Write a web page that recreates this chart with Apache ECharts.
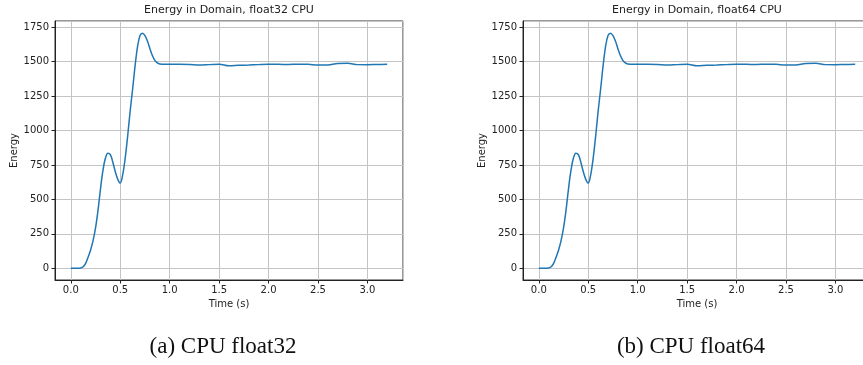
<!DOCTYPE html>
<html>
<head>
<meta charset="utf-8">
<script src="https://cdn.jsdelivr.net/npm/echarts@6/dist/echarts.min.js"></script>
<style>
  html, body { margin: 0; padding: 0; background: #fff; }
  #chart { width: 863px; height: 365px; }
</style>
</head>
<body>
<div id="chart"></div>
<script>
// time axis (s) and energy
var times = [0, 0.05, 0.1, 0.125, 0.15, 0.175, 0.2, 0.225, 0.25, 0.275, 0.3, 0.325, 0.35, 0.375, 0.4,
  0.425, 0.45, 0.475, 0.5, 0.525, 0.55, 0.575, 0.6, 0.625, 0.65, 0.675, 0.7, 0.725, 0.75, 0.775,
  0.8, 0.825, 0.85, 0.875, 0.9, 0.95, 1.0, 1.1, 1.2, 1.3, 1.4, 1.5, 1.6, 1.7, 1.8, 1.9, 2.0,
  2.1, 2.2, 2.3, 2.4, 2.5, 2.6, 2.7, 2.8, 2.9, 3.0, 3.1, 3.2];
var energy32 = [0, 0, 2, 10, 35, 80, 132, 200, 292, 420, 575, 710, 800, 835, 825,
  770, 700, 645, 618, 680, 800, 960, 1140, 1300, 1470, 1610, 1690, 1707, 1690, 1650,
  1595, 1545, 1510, 1492, 1484, 1481, 1481, 1481, 1480, 1476, 1479, 1482, 1470, 1474, 1476, 1479, 1481,
  1481, 1480, 1482, 1481, 1476, 1477, 1488, 1489, 1479, 1478, 1480, 1481];
var energy64 = [0, 0, 2, 10, 35, 80, 132, 200, 292, 420, 575, 710, 800, 835, 825,
  770, 700, 645, 618, 680, 800, 960, 1140, 1300, 1470, 1610, 1690, 1707, 1690, 1650,
  1595, 1545, 1510, 1492, 1484, 1481, 1481, 1481, 1480, 1476, 1479, 1482, 1470, 1474, 1476, 1479, 1481,
  1481, 1480, 1482, 1481, 1476, 1477, 1488, 1489, 1479, 1478, 1480, 1481];
var titles = ["Energy in Domain, float32 CPU", "Energy in Domain, float64 CPU"];
var captions = ["(a) CPU float32", "(b) CPU float64"];

function pairs(xs, ys) {
  var out = [];
  for (var i = 0; i < xs.length; i++) {
    out.push([xs[i], ys[i]]);
  }
  return out;
}

var tickFont = { fontFamily: "DejaVu Sans", fontSize: 10, color: "#222" };

function xAxisFor(idx) {
  return {
    type: "value",
    gridIndex: idx,
    min: -0.16,
    max: 3.36,
    minInterval: 0.5,
    maxInterval: 0.5,
    name: "Time (s)",
    nameLocation: "middle",
    nameGap: 18,
    nameTextStyle: { fontFamily: "DejaVu Sans", fontSize: 10, color: "#222" },
    axisLine: { show: true, onZero: false, lineStyle: { color: "#222", width: 1 } },
    axisTick: { show: true, length: 3.5, lineStyle: { color: "#222" } },
    axisLabel: Object.assign({
      margin: 5,
      showMinLabel: false,
      showMaxLabel: false,
      formatter: function (v) { return v.toFixed(1); }
    }, tickFont),
    splitLine: { show: true, lineStyle: { color: "#c4c4c4", width: 1 } }
  };
}

function yAxisFor(idx) {
  return {
    type: "value",
    gridIndex: idx,
    min: -86,
    max: 1796,
    minInterval: 250,
    maxInterval: 250,
    name: "Energy",
    nameLocation: "middle",
    nameRotate: 90,
    nameGap: 35,
    nameTextStyle: { fontFamily: "DejaVu Sans", fontSize: 10, color: "#222" },
    axisLine: { show: true, onZero: false, lineStyle: { color: "#222", width: 1 } },
    axisTick: { show: true, length: 3.5, lineStyle: { color: "#222" } },
    axisLabel: Object.assign({
      margin: 6,
      showMinLabel: false,
      showMaxLabel: false,
      formatter: function (v) { return String(v); }
    }, tickFont),
    splitLine: { show: true, lineStyle: { color: "#c4c4c4", width: 1 } }
  };
}

var myChart = echarts.init(document.getElementById("chart"), null, { renderer: "canvas" });
var option = {
  animation: false,
  backgroundColor: "#fff",
  title: [
    { text: titles[0], left: 229, top: 5, padding: 0, textAlign: "center",
      textStyle: { fontFamily: "DejaVu Sans", fontSize: 11, fontWeight: "normal", color: "#222" } },
    { text: titles[1], left: 697, top: 5, padding: 0, textAlign: "center",
      textStyle: { fontFamily: "DejaVu Sans", fontSize: 11, fontWeight: "normal", color: "#222" } },
    { text: captions[0], left: 223, top: 335, padding: 0, textAlign: "center",
      textStyle: { fontFamily: "Liberation Serif", fontSize: 23, fontWeight: "normal", color: "#111" } },
    { text: captions[1], left: 691, top: 335, padding: 0, textAlign: "center",
      textStyle: { fontFamily: "Liberation Serif", fontSize: 23, fontWeight: "normal", color: "#111" } }
  ],
  grid: [
    { left: 55, top: 21, width: 348, height: 259, outerBoundsMode: "none", containLabel: false,
      show: true, borderColor: "#333", borderWidth: 1, backgroundColor: "transparent" },
    { left: 523, top: 21, width: 348, height: 259, outerBoundsMode: "none", containLabel: false,
      show: true, borderColor: "#333", borderWidth: 1, backgroundColor: "transparent" }
  ],
  xAxis: [xAxisFor(0), xAxisFor(1)],
  yAxis: [yAxisFor(0), yAxisFor(1)],
  series: [
    {
      name: "float32",
      type: "line",
      xAxisIndex: 0,
      yAxisIndex: 0,
      showSymbol: false,
      smooth: 0.35,
      lineStyle: { color: "#1f77b4", width: 1.5 },
      data: pairs(times, energy32)
    },
    {
      name: "float64",
      type: "line",
      xAxisIndex: 1,
      yAxisIndex: 1,
      showSymbol: false,
      smooth: 0.35,
      lineStyle: { color: "#1f77b4", width: 1.5 },
      data: pairs(times, energy64)
    }
  ]
};
myChart.setOption(option);
</script>
</body>
</html>
